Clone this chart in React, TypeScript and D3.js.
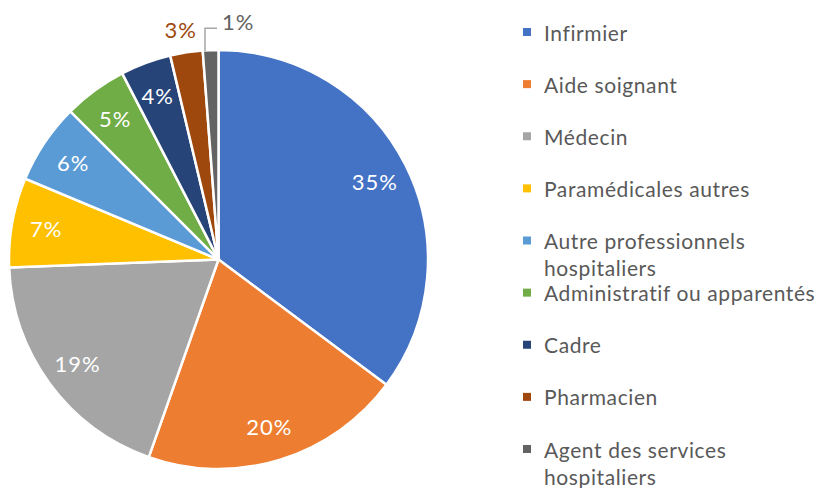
import React from "react";
import * as d3 from "d3";

const categories = [
  "Infirmier",
  "Aide soignant",
  "Médecin",
  "Paramédicales autres",
  "Autre professionnels hospitaliers",
  "Administratif ou apparentés",
  "Cadre",
  "Pharmacien",
  "Agent des services hospitaliers",
];
const values = [35.2, 20.2, 19.0, 6.9, 6.2, 4.9, 3.9, 2.5, 1.2];
const labels = ["35%", "20%", "19%", "7%", "6%", "5%", "4%", "3%", "1%"];
const legendLines = [
  ["Infirmier"],
  ["Aide soignant"],
  ["Médecin"],
  ["Paramédicales autres"],
  ["Autre professionnels", "hospitaliers"],
  ["Administratif ou apparentés"],
  ["Cadre"],
  ["Pharmacien"],
  ["Agent des services", "hospitaliers"],
];
const colors = [
  "#4472C4",
  "#ED7D31",
  "#A5A5A5",
  "#FFC000",
  "#5B9BD5",
  "#70AD47",
  "#264478",
  "#9E480E",
  "#636363",
];

const W = 819;
const H = 488;
const cx = 218.5;
const cy = 259.5;
const R = 209.5;
const FONT = "Lato, 'Open Sans', sans-serif";

export default function App() {
  const pie = d3.pie<number>().sort(null).value((d) => d);
  const arcs = pie(values);
  const arc = d3.arc<d3.PieArcDatum<number>>().innerRadius(0).outerRadius(R);
  const labelArc = d3.arc<d3.PieArcDatum<number>>().innerRadius(175).outerRadius(175);
  const outerArc = d3.arc<d3.PieArcDatum<number>>().innerRadius(234).outerRadius(234);
  const edgeArc = d3.arc<d3.PieArcDatum<number>>().innerRadius(R).outerRadius(R);

  const legendY = d3
    .scalePoint<number>()
    .domain(d3.range(categories.length))
    .range([32, 449]);

  return (
    <svg
      width={W}
      height={H}
      style={{ position: "absolute", left: 0, top: 0, background: "#fff" }}
      fontFamily={FONT}
    >
      <g transform={`translate(${cx},${cy})`}>
        {arcs.map((a, i) => (
          <path key={i} d={arc(a) || ""} fill={colors[i]} stroke="#fff" strokeWidth={2.5} />
        ))}
        {arcs.map((a, i) => {
          if (i < 7) {
            const [x, y] = labelArc.centroid(a);
            return (
              <text
                key={"l" + i}
                x={x}
                y={y}
                fill="#fff"
                fontSize={22}
                letterSpacing={1}
                textAnchor="middle"
                dominantBaseline="central"
              >
                {labels[i]}
              </text>
            );
          }
          if (i === 7) {
            const [x, y] = outerArc.centroid(a);
            return (
              <text
                key={"l" + i}
                x={x - 2}
                y={y + 1.5}
                fill={colors[i]}
                fontSize={22}
                letterSpacing={1}
                textAnchor="middle"
                dominantBaseline="central"
              >
                {labels[i]}
              </text>
            );
          }
          const [ex, ey] = edgeArc.centroid(a);
          const x0 = ex - 5.6;
          const y0 = ey + 1;
          const y1 = y0 - 23;
          const x1 = x0 + 12;
          return (
            <g key={"l" + i}>
              <polyline
                points={`${x0},${y0} ${x0},${y1} ${x1},${y1}`}
                fill="none"
                stroke="#A6A6A6"
                strokeWidth={1.5}
              />
              <text
                x={x1 + 5}
                y={y1 - 6.5}
                fill={colors[i]}
                fontSize={22}
                letterSpacing={1}
                textAnchor="start"
                dominantBaseline="central"
              >
                {labels[i]}
              </text>
            </g>
          );
        })}
      </g>
      <g>
        {categories.map((c, i) => {
          const y = legendY(i) as number;
          return (
            <g key={c}>
              <rect x={523} y={y - 4} width={8} height={8} fill={colors[i]} />
              {legendLines[i].map((ln, j) => (
                <text
                  key={j}
                  x={544}
                  y={y + j * 27}
                  fill="#595959"
                  fontSize={21}
                  letterSpacing={0.6}
                  dominantBaseline="central"
                >
                  {ln}
                </text>
              ))}
            </g>
          );
        })}
      </g>
    </svg>
  );
}
